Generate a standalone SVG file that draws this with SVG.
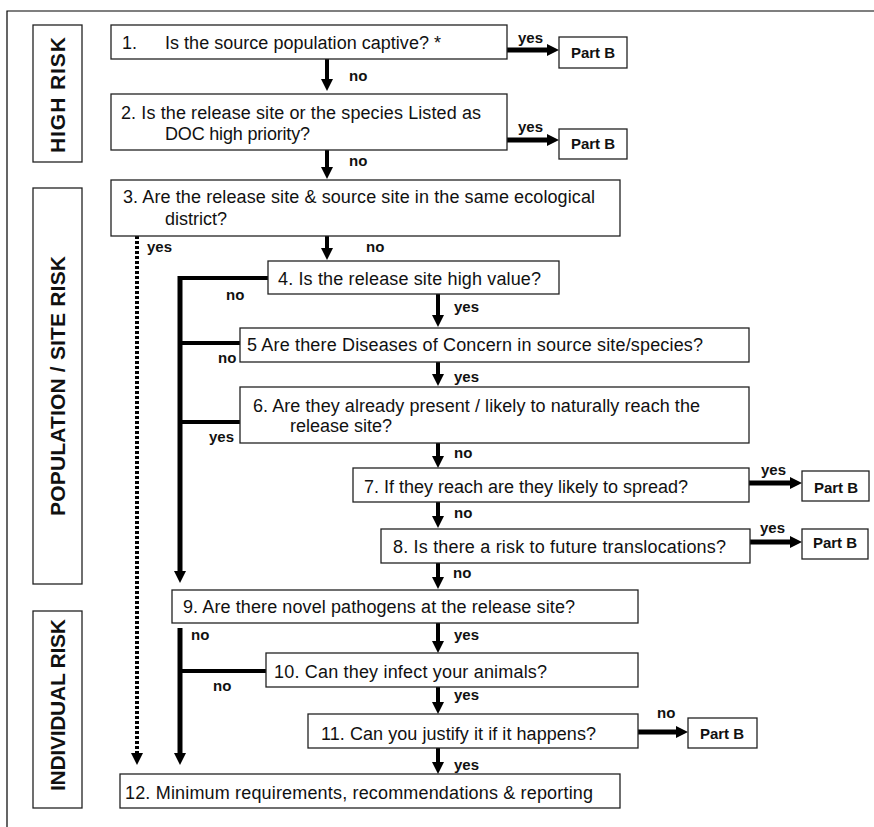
<svg xmlns="http://www.w3.org/2000/svg" width="874" height="827" viewBox="0 0 874 827">
  <style>
    .box { fill: #fff; stroke: #222; stroke-width: 1.3; }
    .q { font-family: "Liberation Sans", Arial, sans-serif; font-size: 18px; fill: #111; }
    .lbl { font-family: "Liberation Sans", Arial, sans-serif; font-size: 15px; font-weight: bold; fill: #111; }
    .pb { font-family: "Liberation Sans", Arial, sans-serif; font-size: 15px; font-weight: bold; fill: #111; text-anchor: middle; }
    .side { font-family: "Liberation Sans", Arial, sans-serif; font-size: 21px; font-weight: bold; fill: #111; text-anchor: middle; }
    .arr { stroke: #000; stroke-width: 4; fill: none; marker-end: url(#head); }
    .arrh { stroke: #000; stroke-width: 5; fill: none; marker-end: url(#head); }
    .br { stroke: #000; stroke-width: 4; fill: none; }
    .dot { stroke: #000; stroke-width: 4; fill: none; stroke-dasharray: 3 2; marker-end: url(#head); }
  </style>
  <defs>
    <marker id="head" viewBox="0 -6 12 12" refX="0" refY="0" markerWidth="12" markerHeight="12" markerUnits="userSpaceOnUse" orient="auto">
      <path d="M0,-6 L12,0 L0,6 z" fill="#000"/>
    </marker>
  </defs>

  <!-- page frame -->
  <path d="M7,827 V11 H874" fill="none" stroke="#000" stroke-width="1.2"/>

  <!-- section labels -->
  <g id="side-high">
    <rect class="box" x="33" y="25" width="49" height="137"/>
    <text class="side" transform="translate(65,95) rotate(-90)" textLength="116">HIGH RISK</text>
  </g>
  <g id="side-population">
    <rect class="box" x="33" y="188" width="49" height="396"/>
    <text class="side" transform="translate(65,386) rotate(-90)" textLength="260">POPULATION / SITE RISK</text>
  </g>
  <g id="side-individual">
    <rect class="box" x="33" y="611" width="49" height="197"/>
    <text class="side" transform="translate(65,705) rotate(-90)" textLength="172">INDIVIDUAL RISK</text>
  </g>

  <!-- connectors -->
  <g id="connectors">
    <line class="arr" x1="327" y1="59" x2="327" y2="79"/>
    <line class="arrh" x1="507" y1="50" x2="547" y2="50"/>
    <line class="arrh" x1="507" y1="140" x2="547" y2="140"/>
    <line class="arr" x1="327" y1="150" x2="327" y2="167"/>
    <line class="arr" x1="327" y1="236" x2="327" y2="248"/>
    <line class="dot" x1="137" y1="236" x2="137" y2="753"/>
    <polyline class="br" points="268,278 180,278"/>
    <line class="arrh" x1="180" y1="276" x2="180" y2="571"/>
    <line class="br" x1="240" y1="343" x2="180" y2="343"/>
    <line class="br" x1="240" y1="422" x2="180" y2="422"/>
    <line class="arr" x1="438" y1="294" x2="438" y2="315"/>
    <line class="arr" x1="438" y1="362" x2="438" y2="374"/>
    <line class="arr" x1="438" y1="443" x2="438" y2="456"/>
    <line class="arrh" x1="749" y1="483" x2="790" y2="483"/>
    <line class="arr" x1="438" y1="502" x2="438" y2="516"/>
    <line class="arrh" x1="750" y1="542" x2="790" y2="542"/>
    <line class="arr" x1="438" y1="563" x2="438" y2="577"/>
    <line class="arrh" x1="180" y1="628" x2="180" y2="753"/>
    <line class="br" x1="266" y1="671" x2="180" y2="671"/>
    <line class="arr" x1="438" y1="623" x2="438" y2="641"/>
    <line class="arr" x1="438" y1="687" x2="438" y2="702"/>
    <line class="arrh" x1="638" y1="732" x2="676" y2="732"/>
    <line class="arr" x1="438" y1="748" x2="438" y2="762"/>

    <text class="lbl" x="518" y="43">yes</text>
    <text class="lbl" x="349" y="81">no</text>
    <text class="lbl" x="518" y="132">yes</text>
    <text class="lbl" x="349" y="166">no</text>
    <text class="lbl" x="147" y="252">yes</text>
    <text class="lbl" x="366" y="252">no</text>
    <text class="lbl" x="226" y="300">no</text>
    <text class="lbl" x="218" y="363">no</text>
    <text class="lbl" x="209" y="442">yes</text>
    <text class="lbl" x="454" y="312">yes</text>
    <text class="lbl" x="454" y="382">yes</text>
    <text class="lbl" x="454" y="458">no</text>
    <text class="lbl" x="761" y="475">yes</text>
    <text class="lbl" x="454" y="518">no</text>
    <text class="lbl" x="760" y="533">yes</text>
    <text class="lbl" x="453" y="578">no</text>
    <text class="lbl" x="191" y="640">no</text>
    <text class="lbl" x="213" y="691">no</text>
    <text class="lbl" x="454" y="640">yes</text>
    <text class="lbl" x="454" y="700">yes</text>
    <text class="lbl" x="657" y="718">no</text>
    <text class="lbl" x="454" y="770">yes</text>
  </g>

  <!-- question nodes -->
  <g id="q1">
    <rect class="box" x="111" y="25" width="396" height="34"/>
    <text class="q" x="122" y="49">1.</text>
    <text class="q" x="165" y="49" textLength="276">Is the source population captive? *</text>
  </g>
  <g id="q2">
    <rect class="box" x="111" y="94" width="396" height="56"/>
    <text class="q" x="121" y="119" textLength="360">2. Is the release site or the species Listed as</text>
    <text class="q" x="165" y="140" textLength="145">DOC high priority?</text>
  </g>
  <g id="q3">
    <rect class="box" x="111" y="180" width="509" height="56"/>
    <text class="q" x="123" y="203" textLength="472">3. Are the release site &amp; source site in the same ecological</text>
    <text class="q" x="165" y="225">district?</text>
  </g>
  <g id="q4">
    <rect class="box" x="268" y="261" width="291" height="33"/>
    <text class="q" x="278" y="285" textLength="263">4. Is the release site high value?</text>
  </g>
  <g id="q5">
    <rect class="box" x="240" y="328" width="509" height="34"/>
    <text class="q" x="247" y="351" textLength="456">5 Are there Diseases of Concern in source site/species?</text>
  </g>
  <g id="q6">
    <rect class="box" x="240" y="387" width="509" height="56"/>
    <text class="q" x="253" y="412" textLength="447">6. Are they already present / likely to naturally reach the</text>
    <text class="q" x="290" y="432">release site?</text>
  </g>
  <g id="q7">
    <rect class="box" x="353" y="468" width="396" height="34"/>
    <text class="q" x="364" y="493" textLength="324">7. If they reach are they likely to spread?</text>
  </g>
  <g id="q8">
    <rect class="box" x="381" y="529" width="369" height="34"/>
    <text class="q" x="393" y="553" textLength="333">8. Is there a risk to future translocations?</text>
  </g>
  <g id="q9">
    <rect class="box" x="172" y="590" width="466" height="33"/>
    <text class="q" x="183" y="613" textLength="392">9. Are there novel pathogens at the release site?</text>
  </g>
  <g id="q10">
    <rect class="box" x="266" y="653" width="372" height="34"/>
    <text class="q" x="274" y="678" textLength="273">10. Can they infect your animals?</text>
  </g>
  <g id="q11">
    <rect class="box" x="308" y="714" width="330" height="34"/>
    <text class="q" x="321" y="740" textLength="275">11. Can you justify it if it happens?</text>
  </g>
  <g id="q12">
    <rect class="box" x="120" y="774" width="500" height="34"/>
    <text class="q" x="125" y="799" textLength="468">12. Minimum requirements, recommendations &amp; reporting</text>
  </g>

  <!-- Part B outcomes -->
  <g id="partb1">
    <rect class="box" x="559" y="37" width="68" height="31"/>
    <text class="pb" x="593" y="58">Part B</text>
  </g>
  <g id="partb2">
    <rect class="box" x="559" y="129" width="68" height="30"/>
    <text class="pb" x="593" y="149">Part B</text>
  </g>
  <g id="partb7">
    <rect class="box" x="802" y="471" width="67" height="30"/>
    <text class="pb" x="836" y="493">Part B</text>
  </g>
  <g id="partb8">
    <rect class="box" x="802" y="529" width="66" height="30"/>
    <text class="pb" x="835" y="548">Part B</text>
  </g>
  <g id="partb11">
    <rect class="box" x="688" y="718" width="69" height="30"/>
    <text class="pb" x="722" y="739">Part B</text>
  </g>
</svg>
